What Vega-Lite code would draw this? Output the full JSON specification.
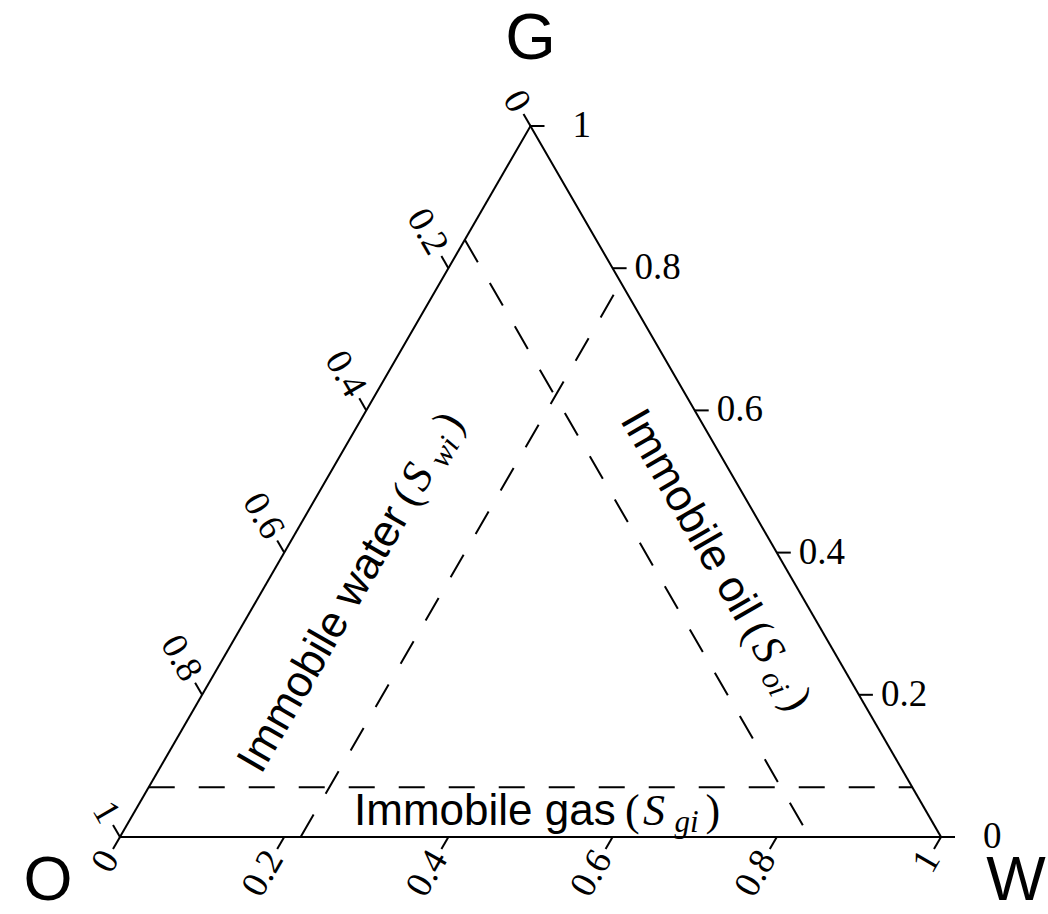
{
  "$schema": "https://vega.github.io/schema/vega-lite/v6.json",
  "width": 821,
  "height": 711,
  "autosize": {"type": "none"},
  "padding": {"left": 120, "top": 126, "right": 107, "bottom": 77},
  "background": "white",
  "config": {"view": {"stroke": null}},
  "datasets": {
    "edges": [
      {"w": 0, "g": 0, "w2": 1, "g2": 0},
      {"w": 1, "g": 0, "w2": 0, "g2": 1},
      {"w": 0, "g": 1, "w2": 0, "g2": 0}
    ],
    "limits": [
      {"phase": "gas", "w": 0, "g": 0.07, "w2": 0.93, "g2": 0.07},
      {"phase": "water", "w": 0.22, "g": 0, "w2": 0.22, "g2": 0.78},
      {"phase": "oil", "w": 0, "g": 0.84, "w2": 0.84, "g2": 0}
    ],
    "ticks": [
      {"axis": "bottom", "label": "0", "w": 0, "g": 0},
      {"axis": "bottom", "label": "0.2", "w": 0.2, "g": 0},
      {"axis": "bottom", "label": "0.4", "w": 0.4, "g": 0},
      {"axis": "bottom", "label": "0.6", "w": 0.6, "g": 0},
      {"axis": "bottom", "label": "0.8", "w": 0.8, "g": 0},
      {"axis": "bottom", "label": "1", "w": 1, "g": 0},
      {"axis": "right", "label": "0", "w": 1, "g": 0},
      {"axis": "right", "label": "0.2", "w": 0.8, "g": 0.2},
      {"axis": "right", "label": "0.4", "w": 0.6, "g": 0.4},
      {"axis": "right", "label": "0.6", "w": 0.4, "g": 0.6},
      {"axis": "right", "label": "0.8", "w": 0.2, "g": 0.8},
      {"axis": "right", "label": "1", "w": 0, "g": 1},
      {"axis": "left", "label": "0", "w": 0, "g": 1},
      {"axis": "left", "label": "0.2", "w": 0, "g": 0.8},
      {"axis": "left", "label": "0.4", "w": 0, "g": 0.6},
      {"axis": "left", "label": "0.6", "w": 0, "g": 0.4},
      {"axis": "left", "label": "0.8", "w": 0, "g": 0.2},
      {"axis": "left", "label": "1", "w": 0, "g": 0}
    ],
    "corners": [
      {"label": "G", "w": 0, "g": 1},
      {"label": "O", "w": 0, "g": 0},
      {"label": "W", "w": 1, "g": 0}
    ],
    "titles": [
      {"phase": "gas", "text": "Immobile gas", "sub": "gi", "w": 0.4825, "g": 0.035},
      {"phase": "water", "text": "Immobile water", "sub": "wi", "w": 0.11, "g": 0.35},
      {"phase": "oil", "text": "Immobile oil", "sub": "oi", "w": 0.535, "g": 0.385}
    ]
  },
  "encoding": {
    "x": {"field": "x", "type": "quantitative", "scale": {"domain": [0, 1], "nice": false, "zero": false}, "axis": null},
    "y": {"field": "g", "type": "quantitative", "scale": {"domain": [0, 1], "nice": false, "zero": false}, "axis": null}
  },
  "layer": [
    {
      "data": {"name": "edges"},
      "transform": [{"calculate": "datum.w + datum.g / 2", "as": "x"}, {"calculate": "datum.w2 + datum.g2 / 2", "as": "x2"}],
      "mark": {"type": "rule", "color": "black", "strokeWidth": 2, "strokeCap": "square"},
      "encoding": {"x2": {"field": "x2"}, "y2": {"field": "g2"}}
    },
    {
      "data": {"name": "limits"},
      "transform": [{"calculate": "datum.w + datum.g / 2", "as": "x"}, {"calculate": "datum.w2 + datum.g2 / 2", "as": "x2"}],
      "mark": {"type": "rule", "color": "black", "strokeWidth": 2, "strokeDash": [26, 24]},
      "encoding": {"x2": {"field": "x2"}, "y2": {"field": "g2"}}
    },
    {
      "data": {"name": "ticks"},
      "transform": [{"filter": "datum.axis == 'bottom'"}, {"calculate": "datum.w + datum.g / 2", "as": "x"}],
      "mark": {"type": "point", "shape": "M0,0L-0.5,0.866", "size": 784, "filled": false, "stroke": "black", "strokeWidth": 2, "opacity": 1}
    },
    {
      "data": {"name": "ticks"},
      "transform": [{"filter": "datum.axis == 'right'"}, {"calculate": "datum.w + datum.g / 2", "as": "x"}],
      "mark": {"type": "point", "shape": "M0,0L1,0", "size": 784, "filled": false, "stroke": "black", "strokeWidth": 2, "opacity": 1}
    },
    {
      "data": {"name": "ticks"},
      "transform": [{"filter": "datum.axis == 'left'"}, {"calculate": "datum.w + datum.g / 2", "as": "x"}],
      "mark": {"type": "point", "shape": "M0,0L-0.5,-0.866", "size": 784, "filled": false, "stroke": "black", "strokeWidth": 2, "opacity": 1}
    },
    {
      "data": {"name": "ticks"},
      "transform": [{"filter": "datum.axis == 'bottom'"}, {"calculate": "datum.w + datum.g / 2", "as": "x"}],
      "mark": {"type": "text", "font": "Liberation Serif", "fontSize": 37, "angle": 300, "align": "right", "baseline": "middle", "dx": -19, "color": "black"},
      "encoding": {"text": {"field": "label"}}
    },
    {
      "data": {"name": "ticks"},
      "transform": [{"filter": "datum.axis == 'left'"}, {"calculate": "datum.w + datum.g / 2", "as": "x"}],
      "mark": {"type": "text", "font": "Liberation Serif", "fontSize": 37, "angle": 60, "align": "right", "baseline": "middle", "dx": -19, "color": "black"},
      "encoding": {"text": {"field": "label"}}
    },
    {
      "data": {"name": "ticks"},
      "transform": [{"filter": "datum.axis == 'right' && datum.label != '0' && datum.label != '1'"}, {"calculate": "datum.w + datum.g / 2", "as": "x"}],
      "mark": {"type": "text", "font": "Liberation Serif", "fontSize": 37, "align": "left", "baseline": "middle", "dx": 22, "color": "black"},
      "encoding": {"text": {"field": "label"}}
    },
    {
      "data": {"name": "ticks"},
      "transform": [{"filter": "datum.axis == 'right' && (datum.label == '0' || datum.label == '1')"}, {"calculate": "datum.w + datum.g / 2", "as": "x"}],
      "mark": {"type": "text", "font": "Liberation Serif", "fontSize": 37, "align": "left", "baseline": "middle", "dx": 42, "color": "black"},
      "encoding": {"text": {"field": "label"}}
    },
    {
      "data": {"name": "corners"},
      "transform": [{"filter": "datum.label == 'G'"}, {"calculate": "datum.w + datum.g / 2", "as": "x"}],
      "mark": {"type": "text", "font": "Liberation Sans", "fontSize": 65, "align": "center", "baseline": "alphabetic", "dy": -67, "color": "black"},
      "encoding": {"text": {"field": "label"}}
    },
    {
      "data": {"name": "corners"},
      "transform": [{"filter": "datum.label == 'O'"}, {"calculate": "datum.w + datum.g / 2", "as": "x"}],
      "mark": {"type": "text", "font": "Liberation Sans", "fontSize": 63, "align": "center", "baseline": "alphabetic", "dx": -72, "dy": 63, "color": "black"},
      "encoding": {"text": {"field": "label"}}
    },
    {
      "data": {"name": "corners"},
      "transform": [{"filter": "datum.label == 'W'"}, {"calculate": "datum.w + datum.g / 2", "as": "x"}],
      "mark": {"type": "text", "font": "Liberation Sans", "fontSize": 63, "align": "center", "baseline": "alphabetic", "dx": 75, "dy": 63, "color": "black"},
      "encoding": {"text": {"field": "label"}}
    },
    {
      "data": {"name": "titles"},
      "transform": [{"filter": "datum.phase == 'gas'"}, {"calculate": "datum.w + datum.g / 2", "as": "x"}],
      "layer": [
        {"mark": {"type": "text", "font": "Liberation Sans", "fontSize": 44, "align": "left", "baseline": "alphabetic", "dx": -176.5, "dy": 13, "color": "black"}, "encoding": {"text": {"field": "text"}}},
        {"mark": {"type": "text", "font": "Liberation Serif", "fontSize": 44, "align": "left", "baseline": "alphabetic", "dx": 94.5, "dy": 13, "color": "black"}, "encoding": {"text": {"value": "("}}},
        {"mark": {"type": "text", "font": "Liberation Serif", "fontStyle": "italic", "fontSize": 44, "align": "left", "baseline": "alphabetic", "dx": 112.5, "dy": 13, "color": "black"}, "encoding": {"text": {"value": "S"}}},
        {"mark": {"type": "text", "font": "Liberation Serif", "fontStyle": "italic", "fontSize": 31, "align": "left", "baseline": "alphabetic", "dx": 144, "dy": 20, "color": "black"}, "encoding": {"text": {"field": "sub"}}},
        {"mark": {"type": "text", "font": "Liberation Serif", "fontSize": 44, "align": "left", "baseline": "alphabetic", "dx": 175, "dy": 13, "color": "black"}, "encoding": {"text": {"value": ")"}}}
      ]
    },
    {
      "data": {"name": "titles"},
      "transform": [{"filter": "datum.phase == 'water'"}, {"calculate": "datum.w + datum.g / 2", "as": "x"}],
      "layer": [
        {"mark": {"type": "text", "font": "Liberation Sans", "fontSize": 44, "angle": 300, "align": "left", "baseline": "alphabetic", "dx": -208.5, "dy": 13, "color": "black"}, "encoding": {"text": {"field": "text"}}},
        {"mark": {"type": "text", "font": "Liberation Serif", "fontSize": 44, "angle": 300, "align": "left", "baseline": "alphabetic", "dx": 99.2, "dy": 13, "color": "black"}, "encoding": {"text": {"value": "("}}},
        {"mark": {"type": "text", "font": "Liberation Serif", "fontStyle": "italic", "fontSize": 44, "angle": 300, "align": "left", "baseline": "alphabetic", "dx": 117.2, "dy": 13, "color": "black"}, "encoding": {"text": {"value": "S"}}},
        {"mark": {"type": "text", "font": "Liberation Serif", "fontStyle": "italic", "fontSize": 31, "angle": 300, "align": "left", "baseline": "alphabetic", "dx": 148.5, "dy": 20, "color": "black"}, "encoding": {"text": {"field": "sub"}}},
        {"mark": {"type": "text", "font": "Liberation Serif", "fontSize": 44, "angle": 300, "align": "left", "baseline": "alphabetic", "dx": 184, "dy": 13, "color": "black"}, "encoding": {"text": {"value": ")"}}}
      ]
    },
    {
      "data": {"name": "titles"},
      "transform": [{"filter": "datum.phase == 'oil'"}, {"calculate": "datum.w + datum.g / 2", "as": "x"}],
      "layer": [
        {"mark": {"type": "text", "font": "Liberation Sans", "fontSize": 44, "angle": 60, "align": "left", "baseline": "alphabetic", "dx": -173, "dy": 13, "color": "black"}, "encoding": {"text": {"field": "text"}}},
        {"mark": {"type": "text", "font": "Liberation Serif", "fontSize": 44, "angle": 60, "align": "left", "baseline": "alphabetic", "dx": 71.1, "dy": 13, "color": "black"}, "encoding": {"text": {"value": "("}}},
        {"mark": {"type": "text", "font": "Liberation Serif", "fontStyle": "italic", "fontSize": 44, "angle": 60, "align": "left", "baseline": "alphabetic", "dx": 89.1, "dy": 13, "color": "black"}, "encoding": {"text": {"value": "S"}}},
        {"mark": {"type": "text", "font": "Liberation Serif", "fontStyle": "italic", "fontSize": 31, "angle": 60, "align": "left", "baseline": "alphabetic", "dx": 120.5, "dy": 20, "color": "black"}, "encoding": {"text": {"field": "sub"}}},
        {"mark": {"type": "text", "font": "Liberation Serif", "fontSize": 44, "angle": 60, "align": "left", "baseline": "alphabetic", "dx": 151.5, "dy": 13, "color": "black"}, "encoding": {"text": {"value": ")"}}}
      ]
    }
  ]
}
